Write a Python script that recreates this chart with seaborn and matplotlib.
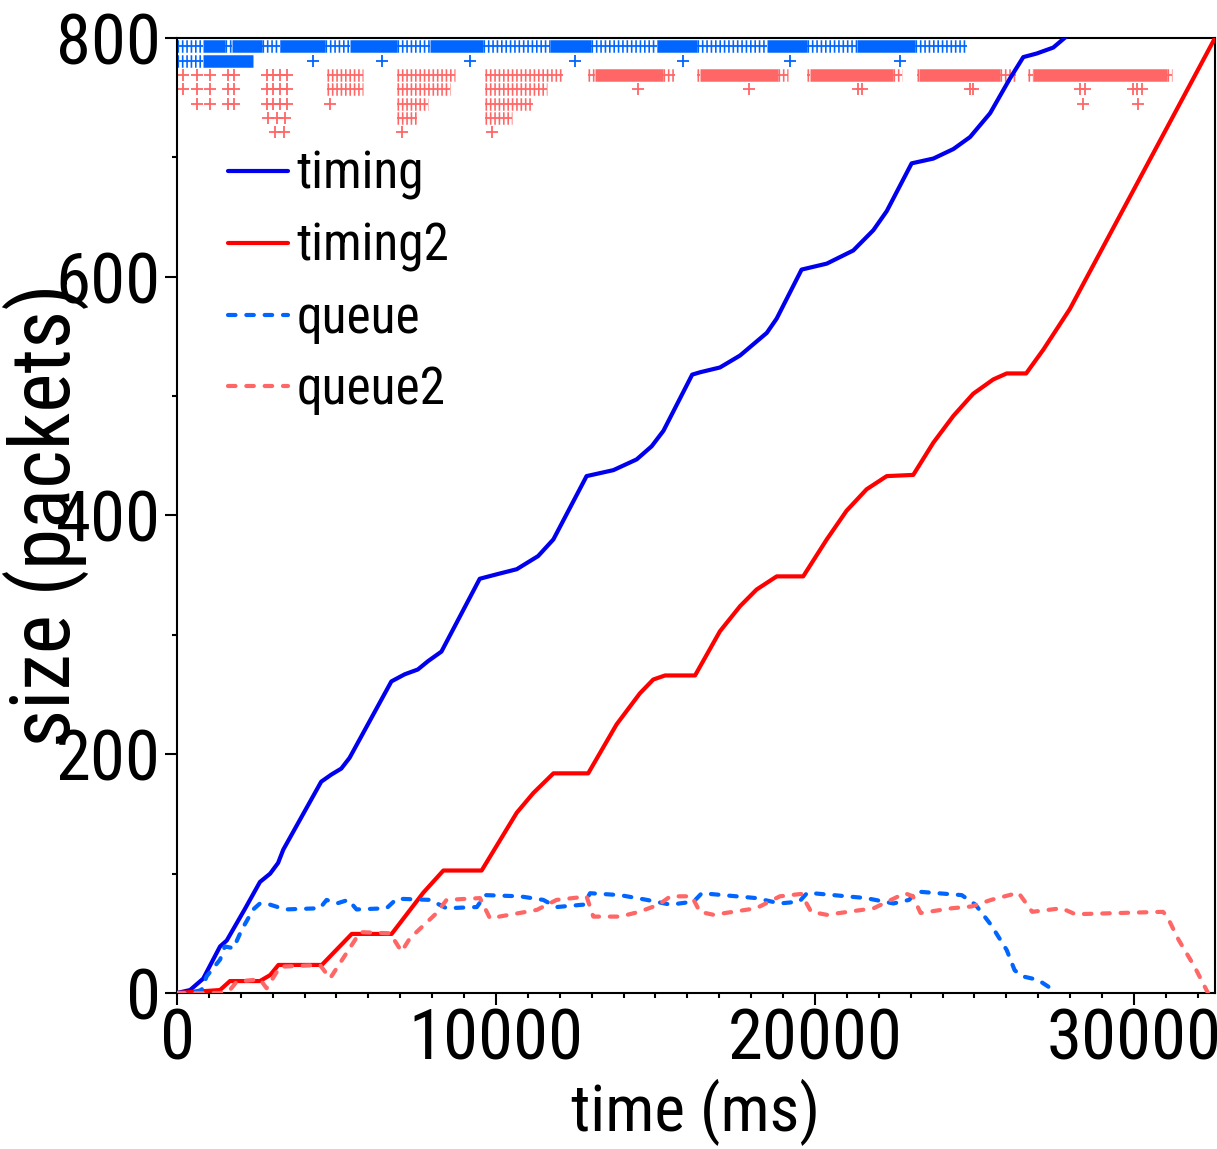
import numpy as np
import pandas as pd
import matplotlib
matplotlib.use("Agg")
import matplotlib.pyplot as plt
from matplotlib import font_manager
import seaborn as sns

# ---------------- data ----------------
timing_t = [0, 410, 820, 1350, 1560, 2120, 2600, 2920, 3170, 3330, 4520, 4840, 5150, 5410,
            6720, 7140, 7550, 7870, 8290, 9490, 10060, 10650, 11320, 11800, 12840, 13680,
            14410, 14880, 15250, 16150, 16400, 17020, 17650, 18490, 18800, 19580, 20370,
            21200, 21830, 22250, 23030, 23710, 24340, 24860, 25490, 26110, 26530, 26950,
            27470, 28000]
timing_s = [0, 2.5, 12, 39, 44, 70, 93, 100, 109, 120, 177, 183, 188, 197,
            261, 267, 271, 278, 286, 347, 351, 355, 366, 380, 433, 438,
            447, 458, 471, 518, 520, 524, 534, 553, 565, 606, 611,
            622, 639, 655, 695, 699, 707, 717, 737, 766, 784, 787,
            792, 804]

timing2_t = [0, 1350, 1660, 2600, 2920, 3180, 4540, 5480, 6730, 7720, 8350, 9550, 10650,
             11170, 11800, 12890, 13780, 14510, 14930, 15300, 16240, 17020, 17650, 18170,
             18800, 19630, 20370, 20990, 21620, 22250, 23080, 23710, 24340, 24960, 25590,
             26010, 26620, 27160, 27990, 32540]
timing2_s = [0, 2.5, 10, 10, 15, 23.5, 23.5, 49.5, 49.5, 84, 102.6, 102.6, 151,
             167.5, 184, 184, 225, 251, 262.6, 266, 266, 303, 324, 338,
             349, 349, 380, 404, 422, 433, 434, 461, 483.5, 502, 514,
             519, 519, 539, 573, 800]

queue_t = [0, 410, 770, 930, 1350, 1500, 1770, 2030, 2390, 2600, 2920, 3390, 4480, 4690,
           5010, 5370, 5630, 6570, 6890, 7930, 8450, 9400, 9660, 10750, 11480, 11900,
           12740, 12950, 13890, 14730, 15470, 16200, 16450, 18160, 18900, 19510, 19760,
           21600, 22460, 22950, 23190, 24600, 25030, 25520, 26010, 26260, 26500, 26990,
           27600]
queue_s = [0, 0, 2.5, 14, 28, 39, 37.5, 53, 70, 75, 74, 70, 71, 78,
           75, 78, 70, 71, 79, 78, 71, 72, 82, 81, 78, 72,
           74, 83.6, 82, 78, 74, 76.6, 83.6, 79.5, 75, 76.6, 84,
           79.5, 75, 78, 85, 82, 74, 57, 36, 19, 14, 11,
           0.3]

queue2_t = [0, 1350, 1660, 1870, 2600, 2810, 3230, 4480, 4800, 5740, 6680, 7040, 7300,
            8140, 8450, 9500, 9810, 11280, 11900, 12840, 13050, 13890, 14490, 15100, 15470,
            16140, 16390, 16820, 18160, 18900, 19570, 19880, 20370, 21840, 22820, 23070,
            23310, 24290, 24910, 25520, 26380, 26810, 27730, 28160, 30910, 31040, 31400,
            31900, 32320]
queue2_s = [0, 0, 2.5, 9.5, 11.5, 4, 22, 23.5, 12.3, 51, 50, 34.7, 45.8,
            67, 78, 79.5, 62.6, 69.6, 78, 80.8, 64, 64, 68, 74, 81,
            81, 68, 65.5, 71, 81, 83, 68, 65.5, 71, 83.6, 81,
            67, 71, 72.5, 78, 84, 68, 71, 66, 68, 64, 44.5,
            22, 0]

# event marker rows (y level of each row)
blue_rows = [793, 781]
red_rows = [769, 757, 745, 733, 721]

# blue row 1: dense (solid) and sparser (striped) stretches of '+' marks
blue1_dense_start = [820, 1730, 3230, 5430, 7930, 11700, 15050, 18500, 21320]
blue1_dense_end = [1510, 2670, 4640, 6900, 9600, 12990, 16300, 19750, 23130]
blue1_sparse_start = [0, 1510, 2670, 4640, 6900, 9600, 12990, 16300, 19750, 23130]
blue1_sparse_end = [820, 1730, 3230, 5430, 7930, 11700, 15050, 18500, 21320, 24770]
# blue row 2
blue2_dense_start = [800]
blue2_dense_end = [2380]
blue2_sparse_start = [0]
blue2_sparse_end = [800]
blue2_single = [4270, 6430, 9190, 12480, 15860, 19220, 22660]

# red row 1
red1_single = [200, 617, 1034, 1600, 1780, 2810, 3020, 3230, 3440]
red1_dense_start = [13100, 16400, 19840, 23250, 26830]
red1_dense_end = [15230, 18850, 22450, 25800, 31030]
red1_sparse_start = [4690, 6890, 9655, 12880, 15230, 16290, 18850, 19740, 22450, 23190, 25800, 26680, 31030]
red1_sparse_end = [5820, 8715, 12110, 13100, 15610, 16400, 19160, 19840, 22720, 23250, 26300, 26830, 31190]
# red row 2
red2_single = [200, 617, 1034, 1600, 1780, 2810, 3020, 3230, 3440, 14460, 17940, 21360,
               21460, 24850, 24960, 28310, 28460, 29970, 30100, 30250]
red2_sparse_start = [4690, 6890, 9655]
red2_sparse_end = [5820, 8560, 11590]
# red row 3
red3_single = [617, 1034, 1600, 1780, 2810, 3020, 3230, 3440, 4800, 28400, 30130]
red3_sparse_start = [6890, 9655]
red3_sparse_end = [7880, 11170]
# red row 4
red4_single = [2860, 3120, 3390]
red4_sparse_start = [6890, 9655]
red4_sparse_end = [7510, 10490]
# red row 5
red5_single = [3080, 3340, 7060, 9865]

x_major = [0, 10000, 20000, 30000]
y_major = [0, 200, 400, 600, 800]
x_max = 32540
y_max = 800

# ---------------- style ----------------
sns.set_theme(style="white")
avail = {f.name for f in font_manager.fontManager.ttflist}
prefs = ["Liberation Sans Narrow", "Nimbus Sans Narrow", "Arial Narrow", "Roboto Condensed",
         "Archivo Narrow", "Pragati Narrow", "Liberation Sans", "DejaVu Sans"]
fam = [f for f in prefs if f in avail][:1] + ["DejaVu Sans"]
plt.rcParams["font.family"] = fam
plt.rcParams["text.color"] = "black"
plt.rcParams["axes.labelcolor"] = "black"
plt.rcParams["xtick.color"] = "black"
plt.rcParams["ytick.color"] = "black"
plt.rcParams["axes.linewidth"] = 1.5
plt.rcParams["axes.edgecolor"] = "black"

C_TIMING = "#0000ee"
C_TIMING2 = "#ff0000"
C_QUEUE = "#0066ff"
C_QUEUE2 = "#ff6666"

fig = plt.figure(figsize=(12.17, 11.49), dpi=100)
ax = fig.add_axes([0.14544, 0.13577, 0.85292, 0.83116])

BAND_LW = 9.0       # points, height of a run of '+' marks
STRIPE = (0, (0.13, 0.22))
CROSS_S = 78


def dense(y, starts, ends, color):
    ax.hlines([y] * len(starts), starts, ends, colors=color, linewidth=BAND_LW, zorder=2)


def sparse(y, starts, ends, color):
    ax.hlines([y] * len(starts), starts, ends, colors=color, linewidth=BAND_LW,
              linestyles=[STRIPE], zorder=2)
    ax.hlines([y] * len(starts), starts, ends, colors=color, linewidth=1.3, zorder=2)


def singles(y, xs, color):
    ax.scatter(xs, [y] * len(xs), marker="+", s=CROSS_S, linewidths=1.3, color=color, zorder=2)


dense(blue_rows[0], blue1_dense_start, blue1_dense_end, C_QUEUE)
sparse(blue_rows[0], blue1_sparse_start, blue1_sparse_end, C_QUEUE)
dense(blue_rows[1], blue2_dense_start, blue2_dense_end, C_QUEUE)
sparse(blue_rows[1], blue2_sparse_start, blue2_sparse_end, C_QUEUE)
singles(blue_rows[1], blue2_single, C_QUEUE)

singles(red_rows[0], red1_single, C_QUEUE2)
dense(red_rows[0], red1_dense_start, red1_dense_end, C_QUEUE2)
sparse(red_rows[0], red1_sparse_start, red1_sparse_end, C_QUEUE2)
singles(red_rows[1], red2_single, C_QUEUE2)
sparse(red_rows[1], red2_sparse_start, red2_sparse_end, C_QUEUE2)
singles(red_rows[2], red3_single, C_QUEUE2)
sparse(red_rows[2], red3_sparse_start, red3_sparse_end, C_QUEUE2)
singles(red_rows[3], red4_single, C_QUEUE2)
sparse(red_rows[3], red4_sparse_start, red4_sparse_end, C_QUEUE2)
singles(red_rows[4], red5_single, C_QUEUE2)

# ---------------- lines ----------------
LW = 3.0
sns.lineplot(x=timing_t, y=timing_s, ax=ax, color=C_TIMING, lw=LW, label="timing",
             sort=False, estimator=None, zorder=3)
sns.lineplot(x=timing2_t, y=timing2_s, ax=ax, color=C_TIMING2, lw=LW, label="timing2",
             sort=False, estimator=None, zorder=3)
sns.lineplot(x=queue_t, y=queue_s, ax=ax, color=C_QUEUE, lw=LW, label="queue",
             linestyle=(0, (1.8, 2.6)), dash_capstyle="round",
             sort=False, estimator=None, zorder=3)
sns.lineplot(x=queue2_t, y=queue2_s, ax=ax, color=C_QUEUE2, lw=LW, label="queue2",
             linestyle=(0, (1.8, 2.6)), dash_capstyle="round",
             sort=False, estimator=None, zorder=3)

ax.set_xlim(0, x_max)
ax.set_ylim(0, y_max)
ax.set_xticks(x_major)
ax.set_yticks(y_major)
ax.xaxis.set_minor_locator(matplotlib.ticker.MultipleLocator(1000))
ax.yaxis.set_minor_locator(matplotlib.ticker.MultipleLocator(100))
ax.tick_params(which="both", direction="out", bottom=True, left=True, top=False, right=False,
               color="black", width=1.5)
ax.tick_params(which="major", length=8.6, labelsize=51)
ax.tick_params(which="minor", length=3.6)
ax.tick_params(axis="y", which="major", pad=3)
ax.tick_params(axis="x", which="major", pad=1)
for s in ax.spines.values():
    s.set_visible(True)
    s.set_color("black")
    s.set_linewidth(1.5)

ax.set_xlabel("time (ms)", fontsize=47)
ax.set_ylabel("size (packets)", fontsize=60)
ax.xaxis.set_label_coords(0.5, -0.09)
ax.yaxis.set_label_coords(-0.085, 0.5)

leg = ax.legend(loc="upper left", bbox_to_anchor=(0.049, 0.883), frameon=False,
                fontsize=37, handlelength=1.17, handletextpad=0.17, labelspacing=0.42,
                borderpad=0, borderaxespad=0)

fig.savefig("out.png", dpi=100)
